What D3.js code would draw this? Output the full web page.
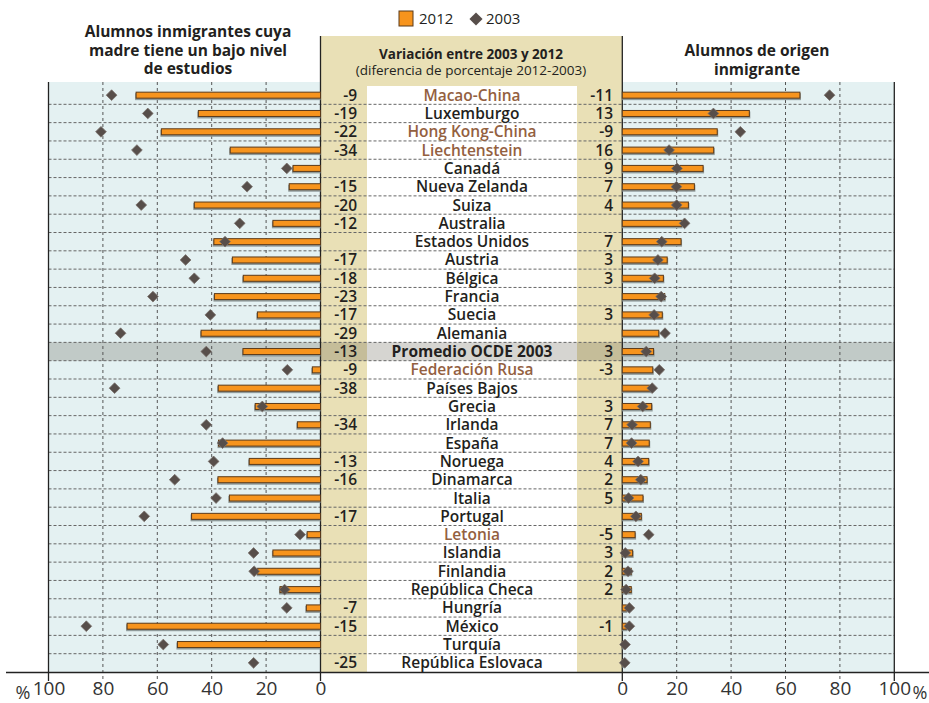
<!DOCTYPE html>
<html>
<head>
<meta charset="utf-8">
<script src="https://cdn.jsdelivr.net/npm/d3@7"></script>
<style>
  body { margin: 0; background: #fff; }
  svg text { font-family: "Open Sans", sans-serif; }
</style>
</head>
<body>
<div id="main"></div>
<script>
// data
const countries = ['Macao-China', 'Luxemburgo', 'Hong Kong-China', 'Liechtenstein', 'Canadá', 'Nueva Zelanda',
  'Suiza', 'Australia', 'Estados Unidos', 'Austria', 'Bélgica', 'Francia', 'Suecia', 'Alemania',
  'Promedio OCDE 2003', 'Federación Rusa', 'Países Bajos', 'Grecia', 'Irlanda', 'España', 'Noruega',
  'Dinamarca', 'Italia', 'Portugal', 'Letonia', 'Islandia', 'Finlandia', 'República Checa', 'Hungría',
  'México', 'Turquía', 'República Eslovaca'];
const partners = ['Macao-China', 'Hong Kong-China', 'Liechtenstein', 'Federación Rusa', 'Letonia'];
const average = 'Promedio OCDE 2003';

// left panel: immigrant students whose mother has low education
const left2012 = [67.8, 44.9, 58.5, 33.2, 10.1, 11.5, 46.4, 17.5, 39.2, 32.4, 28.4, 39.0, 23.2, 43.9, 28.5, 3.0,
  37.6, 24.0, 8.5, 37.5, 26.2, 37.7, 33.5, 47.4, 4.9, 17.5, 23.1, 14.9, 5.2, 71.1, 52.6, null];
const left2003 = [76.8, 63.5, 80.7, 67.5, 12.4, 27.0, 65.9, 29.7, 35.1, 49.6, 46.4, 61.6, 40.5, 73.5, 42.0, 12.2,
  75.7, 21.4, 42.0, 36.0, 39.3, 53.6, 38.4, 64.8, 7.5, 24.6, 24.4, 13.2, 12.4, 86.1, 57.8, 24.6];
const leftDiff = [-9, -19, -22, -34, null, -15, -20, -12, null, -17, -18, -23, -17, -29, -13, -9, -38, null, -34,
  null, -13, -16, null, -17, null, null, null, null, -7, -15, null, -25];

// right panel: students with an immigrant background
const right2012 = [65.3, 46.7, 34.9, 33.6, 29.7, 26.5, 24.3, 21.8, 21.6, 16.5, 15.1, 15.6, 14.7, 13.4, 11.5, 11.2,
  10.2, 10.8, 10.3, 9.9, 9.7, 9.1, 7.6, 7.0, 4.7, 3.8, 3.3, 3.3, 1.5, 1.5, 0.4, 0.3];
const right2003 = [76.2, 33.5, 43.4, 17.2, 20.1, 19.9, 20.0, 22.9, 14.5, 13.1, 11.9, 14.3, 11.7, 15.7, 8.8, 13.6,
  11.0, 7.5, 3.6, 3.4, 5.8, 6.8, 2.3, 5.0, 9.7, 1.1, 2.1, 1.4, 2.6, 2.6, 1.0, 0.9];
const rightDiff = [-11, 13, -9, 16, 9, 7, 4, null, 7, 3, 3, null, 3, null, 3, -3, null, 3, 7, 7, 4, 2, 5, null,
  -5, 3, 2, 2, null, -1, null, null];

const ticks = [0, 20, 40, 60, 80, 100];

const w = 929, h = 703;
const plotTop = 86, plotBottom = 672;

const svg = d3.select('#main').append('svg')
    .attr('width', w)
    .attr('height', h);

const xL = d3.scaleLinear().domain([0, 100]).range([320.5, 48.5]);
const xR = d3.scaleLinear().domain([0, 100]).range([622.3, 894.3]);
const y = d3.scaleBand().domain(countries).range([plotTop, plotBottom]);
const mid = [xL(0), xR(0)];

// backgrounds
svg.append('rect').attr('x', xL(100)).attr('y', 82).attr('width', xL(0) - xL(100)).attr('height', plotBottom - 82)
    .attr('fill', '#e4f1f2');
svg.append('rect').attr('x', xR(0)).attr('y', 82).attr('width', xR(100) - xR(0)).attr('height', plotBottom - 82)
    .attr('fill', '#e4f1f2');
svg.append('rect').attr('x', mid[0]).attr('y', 36).attr('width', mid[1] - mid[0]).attr('height', plotBottom - 36)
    .attr('fill', '#e9e0b6');
svg.append('rect').attr('x', 367).attr('y', plotTop).attr('width', 210).attr('height', plotBottom - plotTop)
    .attr('fill', '#fff');

// highlighted average row
svg.append('rect')
    .attr('x', xL(100)).attr('y', y(average))
    .attr('width', xR(100) - xL(100)).attr('height', y.bandwidth())
    .attr('fill', '#4f4a3a').attr('opacity', 0.23);

// row separators
svg.selectAll('.sep')
    .data(countries.slice(1))
    .enter().append('line')
    .attr('class', 'sep')
    .attr('x1', xL(100)).attr('x2', xR(100))
    .attr('y1', d => y(d)).attr('y2', d => y(d))
    .attr('stroke', '#666').attr('stroke-width', 1)
    .attr('stroke-dasharray', '3,2');

// vertical grid
[xL, xR].forEach(sc => {
  svg.selectAll(null)
    .data([20, 40, 60, 80])
    .enter().append('line')
    .attr('x1', d => sc(d)).attr('x2', d => sc(d))
    .attr('y1', 82).attr('y2', 682)
    .attr('stroke', '#555').attr('stroke-dasharray', '3,3');
});

// solid frame lines
[xL(100), xL(0), xR(0), xR(100)].forEach((x, i) => {
  svg.append('line')
    .attr('x1', x).attr('x2', x)
    .attr('y1', (i == 1 || i == 2) ? 36 : 82).attr('y2', 681)
    .attr('stroke', '#222').attr('stroke-width', 1.3);
});

// bottom axis
const axisL = d3.axisBottom(xL).tickValues(ticks).tickSize(0).tickPadding(10)
    .tickFormat(d => d);
const axisR = d3.axisBottom(xR).tickValues(ticks).tickSize(0).tickPadding(10)
    .tickFormat(d => d);
[axisL, axisR].forEach(ax => {
  const g = svg.append('g').attr('transform', 'translate(0,' + plotBottom + ')').call(ax);
  g.select('.domain').remove();
  g.selectAll('text').attr('font-size', 19).attr('fill', '#333')
      .attr('font-family', '"Open Sans", sans-serif');
});
svg.append('line').attr('x1', 6).attr('x2', w).attr('y1', plotBottom + 0.5).attr('y2', plotBottom + 0.5)
    .attr('stroke', '#222').attr('stroke-width', 1.3);
svg.append('text').attr('x', 23).attr('y', 699).attr('text-anchor', 'middle')
    .attr('font-size', 18).attr('fill', '#333').text('%');
svg.append('text').attr('x', 920).attr('y', 699).attr('text-anchor', 'middle')
    .attr('font-size', 18).attr('fill', '#333').text('%');

const barH = 6;
const yc = d => y(d) + y.bandwidth() / 2;

const leftRows = countries.map((c, i) => ({ c: c, v12: left2012[i], v03: left2003[i] }));
const rightRows = countries.map((c, i) => ({ c: c, v12: right2012[i], v03: right2003[i] }));

// left bars (2012)
svg.selectAll('.lshadow')
    .data(leftRows.filter(d => d.v12 != null))
    .enter().append('rect')
    .attr('x', d => xL(d.v12) - 1).attr('y', d => yc(d.c) - barH / 2 + 1)
    .attr('width', d => xL(0) - xL(d.v12) + 1).attr('height', barH + 1)
    .attr('fill', '#8f9a9a');
svg.selectAll('.lbar')
    .data(leftRows.filter(d => d.v12 != null))
    .enter().append('rect')
    .attr('x', d => xL(d.v12)).attr('y', d => yc(d.c) - barH / 2)
    .attr('width', d => xL(0) - xL(d.v12)).attr('height', barH)
    .attr('fill', '#f7941d').attr('stroke', '#5b3a1a').attr('stroke-width', 1);

// right bars (2012)
svg.selectAll('.rshadow')
    .data(rightRows)
    .enter().append('rect')
    .attr('x', xR(0)).attr('y', d => yc(d.c) - barH / 2 + 1)
    .attr('width', d => xR(d.v12) - xR(0) + 1).attr('height', barH + 1)
    .attr('fill', '#8f9a9a');
svg.selectAll('.rbar')
    .data(rightRows)
    .enter().append('rect')
    .attr('x', xR(0)).attr('y', d => yc(d.c) - barH / 2)
    .attr('width', d => xR(d.v12) - xR(0)).attr('height', barH)
    .attr('fill', '#f7941d').attr('stroke', '#5b3a1a').attr('stroke-width', 1);

// diamonds (2003)
const diamond = d3.symbol().type(d3.symbolDiamond2).size(74);
svg.selectAll('.ld')
    .data(leftRows)
    .enter().append('path')
    .attr('d', diamond)
    .attr('transform', d => 'translate(' + xL(d.v03) + ',' + yc(d.c) + ')')
    .attr('fill', '#574e4a').attr('stroke', '#7a716c').attr('stroke-width', 0.8);
svg.selectAll('.rd')
    .data(rightRows)
    .enter().append('path')
    .attr('d', diamond)
    .attr('transform', d => 'translate(' + xR(d.v03) + ',' + yc(d.c) + ')')
    .attr('fill', '#574e4a').attr('stroke', '#7a716c').attr('stroke-width', 0.8);

// middle column labels
svg.selectAll('.name')
    .data(countries)
    .enter().append('text')
    .attr('x', 472).attr('y', d => yc(d) + 5.5)
    .attr('text-anchor', 'middle')
    .attr('font-size', 15.5)
    .attr('font-weight', d => d == average ? 700 : 600)
    .attr('fill', d => partners.includes(d) ? '#93603f' : '#231f20')
    .text(d => d);

svg.selectAll('.ldiff')
    .data(countries.map((c, i) => ({ c: c, v: leftDiff[i] })).filter(d => d.v != null))
    .enter().append('text')
    .attr('x', 357).attr('y', d => yc(d.c) + 5.5)
    .attr('text-anchor', 'end')
    .attr('font-size', 15.5).attr('font-weight', 600).attr('fill', '#231f20')
    .text(d => d.v);
svg.selectAll('.rdiff')
    .data(countries.map((c, i) => ({ c: c, v: rightDiff[i] })).filter(d => d.v != null))
    .enter().append('text')
    .attr('x', 613).attr('y', d => yc(d.c) + 5.5)
    .attr('text-anchor', 'end')
    .attr('font-size', 15.5).attr('font-weight', 600).attr('fill', '#231f20')
    .text(d => d.v);

// titles
const titleL = ['Alumnos inmigrantes cuya', 'madre tiene un bajo nivel', 'de estudios'];
const titleR = ['Alumnos de origen', 'inmigrante'];
svg.selectAll('.tl').data(titleL).enter().append('text')
    .attr('x', 188).attr('y', (d, i) => 37 + i * 18.5)
    .attr('text-anchor', 'middle').attr('font-size', 15.5).attr('font-weight', 700).attr('fill', '#231f20')
    .text(d => d);
svg.selectAll('.tr').data(titleR).enter().append('text')
    .attr('x', 757).attr('y', (d, i) => 56 + i * 18.5)
    .attr('text-anchor', 'middle').attr('font-size', 15.5).attr('font-weight', 700).attr('fill', '#231f20')
    .text(d => d);
svg.append('text').attr('x', 471).attr('y', 59).attr('text-anchor', 'middle')
    .attr('font-size', 13.5).attr('font-weight', 700).attr('fill', '#231f20')
    .text('Variación entre 2003 y 2012');
svg.append('text').attr('x', 471).attr('y', 75).attr('text-anchor', 'middle')
    .attr('font-size', 13.5).attr('fill', '#231f20')
    .text('(diferencia de porcentaje 2012-2003)');

// legend
svg.append('rect').attr('x', 399).attr('y', 11).attr('width', 14).attr('height', 15)
    .attr('fill', '#f7941d').attr('stroke', '#5b3a1a');
svg.append('text').attr('x', 419).attr('y', 24).attr('font-size', 15).attr('fill', '#231f20').text('2012');
svg.append('path').attr('d', d3.symbol().type(d3.symbolDiamond2).size(110))
    .attr('transform', 'translate(476,19)').attr('fill', '#574e4a');
svg.append('text').attr('x', 486).attr('y', 24).attr('font-size', 15).attr('fill', '#231f20').text('2003');
</script>
</body>
</html>
